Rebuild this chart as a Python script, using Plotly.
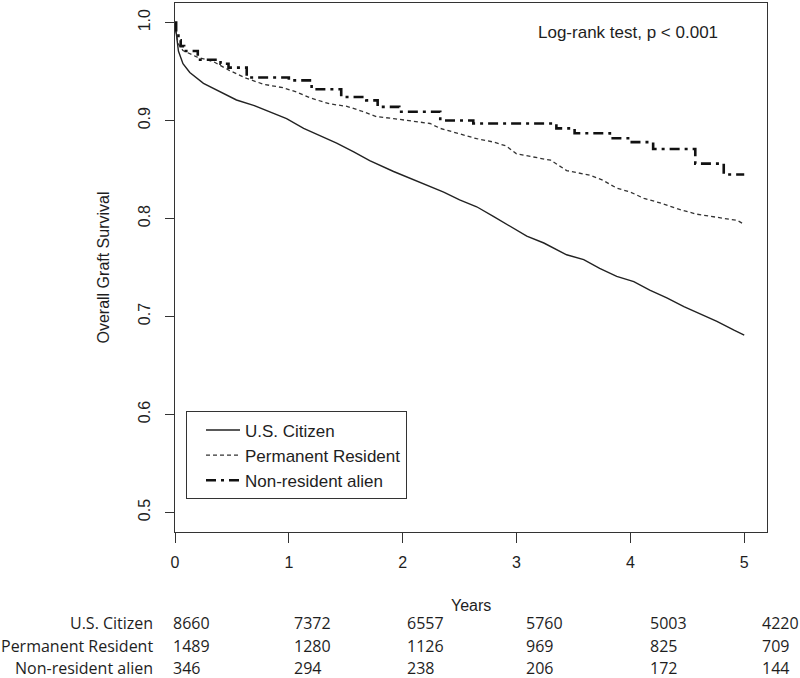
import plotly.graph_objects as go

# ---------------- data ----------------
series_names = ["U.S. Citizen", "Permanent Resident", "Non-resident alien"]

# U.S. Citizen
us_t = [0, 0.01, 0.03, 0.07, 0.13, 0.25, 0.40, 0.54, 0.69, 0.83, 0.98, 1.13, 1.27,
        1.42, 1.57, 1.71, 1.92, 2.07, 2.21, 2.36, 2.50, 2.65, 2.80, 2.94, 3.09, 3.24,
        3.38, 3.44, 3.59, 3.73, 3.88, 4.03, 4.17, 4.32, 4.47, 4.61, 4.76, 4.91, 5.00]
us_s = [1.0, 0.990, 0.971, 0.958, 0.949, 0.938, 0.929, 0.921, 0.9155, 0.909, 0.902,
        0.892, 0.885, 0.877, 0.868, 0.859, 0.848, 0.841, 0.834, 0.827, 0.819, 0.812,
        0.802, 0.792, 0.782, 0.775, 0.767, 0.763, 0.758, 0.749, 0.741, 0.7355, 0.727,
        0.719, 0.710, 0.703, 0.695, 0.686, 0.681]

# Permanent Resident
pr_t = [0, 0.01, 0.03, 0.07, 0.19, 0.34, 0.48, 0.63, 0.78, 0.95, 1.07, 1.19, 1.36,
        1.51, 1.63, 1.77, 1.92, 2.07, 2.24, 2.33, 2.50, 2.65, 2.80, 2.91, 3.00, 3.18,
        3.30, 3.44, 3.65, 3.76, 3.88, 4.00, 4.12, 4.26, 4.41, 4.58, 4.76, 4.94, 5.00]
pr_s = [1.0, 0.9885, 0.978, 0.9715, 0.965, 0.960, 0.951, 0.943, 0.937, 0.9335, 0.929,
        0.923, 0.917, 0.9145, 0.910, 0.904, 0.902, 0.8995, 0.897, 0.892, 0.886, 0.8815,
        0.878, 0.874, 0.866, 0.862, 0.8595, 0.849, 0.844, 0.839, 0.831, 0.827, 0.8205,
        0.816, 0.810, 0.8045, 0.801, 0.798, 0.794]

# Non-resident alien (step function)
na_t = [0, 0.01, 0.03, 0.05, 0.08, 0.20, 0.40, 0.47, 0.63, 1.00, 1.20, 1.46, 1.68,
        1.78, 1.97, 2.33, 2.62, 3.35, 3.51, 3.82, 3.98, 4.20, 4.57, 4.82, 5.00]
na_s = [1.0, 0.990, 0.982, 0.976, 0.971, 0.962, 0.958, 0.954, 0.944, 0.941, 0.932,
        0.924, 0.9206, 0.914, 0.909, 0.900, 0.897, 0.892, 0.887, 0.882, 0.878, 0.871,
        0.856, 0.845, 0.845]

# number at risk table
risk_years = [0, 1, 2, 3, 4, 5]
risk_us = [8660, 7372, 6557, 5760, 5003, 4220]
risk_pr = [1489, 1280, 1126, 969, 825, 709]
risk_na = [346, 294, 238, 206, 172, 144]

x_ticks = [0, 1, 2, 3, 4, 5]
y_ticks = [0.5, 0.6, 0.7, 0.8, 0.9, 1.0]
y_ticklabels = ["0.5", "0.6", "0.7", "0.8", "0.9", "1.0"]

# ---------------- styles ----------------
MAIN_FONT = "Liberation Sans, Arial, sans-serif"
TABLE_FONT = "Open Sans, Noto Sans, sans-serif"
INK = "#1e1e1e"
# column left positions of the risk table (layout, paper units)
col_x = [-0.007, 0.1976, 0.3885, 0.5895, 0.799, 0.9885]
row_y = [-0.172, -0.2155, -0.257]

fig = go.Figure()
fig.add_trace(go.Scatter(x=us_t, y=us_s, mode="lines", name=series_names[0],
                         line=dict(color="#222222", width=1.4, shape="linear")))
fig.add_trace(go.Scatter(x=pr_t, y=pr_s, mode="lines", name=series_names[1],
                         line=dict(color="#333333", width=1.3, dash="4px,3px", shape="linear")))
fig.add_trace(go.Scatter(x=na_t, y=na_s, mode="lines", name=series_names[2],
                         line=dict(color="#111111", width=2.6, dash="10px,5px,3px,5px", shape="hv")))

annotations = []
# axis labels
annotations.append(dict(text="Years", xref="paper", yref="paper", x=0.5, y=-0.138,
                        xanchor="center", yanchor="middle", showarrow=False,
                        font=dict(family=MAIN_FONT, size=16, color=INK)))
annotations.append(dict(text="Overall Graft Survival", xref="paper", yref="paper",
                        x=-0.1216, y=0.5, textangle=-90, xanchor="center", yanchor="middle",
                        showarrow=False, font=dict(family=MAIN_FONT, size=16, color=INK)))
annotations.append(dict(text="Log-rank test, p < 0.001", xref="paper", yref="paper",
                        x=0.92, y=0.945, xanchor="right", yanchor="middle", showarrow=False,
                        font=dict(family=MAIN_FONT, size=17, color=INK)))

# risk table
for name, counts, ry in zip(series_names, [risk_us, risk_pr, risk_na], row_y):
    annotations.append(dict(text=name, xref="paper", yref="paper", x=-0.033, y=ry,
                            xanchor="right", yanchor="middle", showarrow=False,
                            font=dict(family=TABLE_FONT, size=16, color=INK)))
    for cx, c in zip(col_x, counts):
        annotations.append(dict(text=str(c), xref="paper", yref="paper", x=cx, y=ry,
                                xanchor="left", yanchor="middle", showarrow=False,
                                font=dict(family=TABLE_FONT, size=16, color=INK)))

fig.update_layout(
    width=800, height=678,
    margin=dict(l=175, r=33, t=3, b=146),
    paper_bgcolor="white", plot_bgcolor="white",
    font=dict(family=MAIN_FONT, size=16, color=INK),
    showlegend=True,
    legend=dict(x=0.0186, y=0.2278, xanchor="left", yanchor="top",
                bgcolor="white", bordercolor="#333333", borderwidth=1,
                font=dict(family=MAIN_FONT, size=17, color=INK),
                itemwidth=34, indentation=14, tracegroupgap=0),
    annotations=annotations,
    xaxis=dict(range=[0, 5.2], tickmode="array", tickvals=x_ticks,
               ticks="outside", ticklen=10, tickwidth=1, tickcolor="#333333",
               showline=True, linecolor="#333333", linewidth=1, mirror=True,
               showgrid=False, zeroline=False, ticklabelstandoff=6,
               tickfont=dict(family=MAIN_FONT, size=16, color=INK)),
    yaxis=dict(range=[0.48, 1.02], tickmode="array", tickvals=y_ticks,
               ticktext=y_ticklabels, tickangle=-90,
               ticks="outside", ticklen=9, tickwidth=1, tickcolor="#333333",
               showline=True, linecolor="#333333", linewidth=1, mirror=True,
               showgrid=False, zeroline=False, ticklabelstandoff=9,
               tickfont=dict(family=MAIN_FONT, size=16, color=INK)),
)

fig.write_html("out.html", config={"displayModeBar": False},
               post_script="document.body.style.margin='0px';")
